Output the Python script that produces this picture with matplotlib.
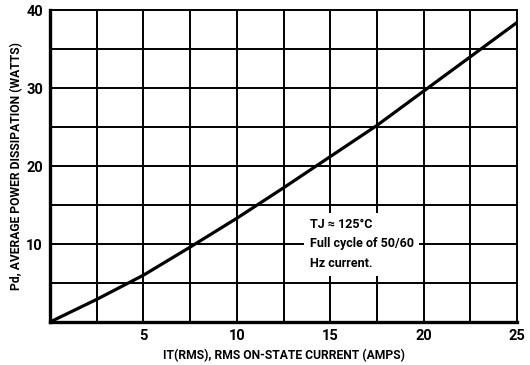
import numpy as np
import matplotlib
matplotlib.use("Agg")
import matplotlib.pyplot as plt

plt.rcParams['font.family'] = ['Roboto', 'DejaVu Sans']

# Curva: potência média x corrente RMS
corrente = [0, 2.5, 5, 7.5, 10, 12.5, 15, 17.5, 20, 22.5, 25]
potencia = [0, 2.9, 6.0, 9.6, 13.3, 17.2, 21.2, 25.2, 29.6, 34.0, 38.4]

x_ticks = [5, 10, 15, 20, 25]
y_ticks = [10, 20, 30, 40]

fig = plt.figure(figsize=(5.3, 3.65), dpi=100)
ax = fig.add_axes([50 / 530, 1 - 322 / 365, 467 / 530, 312 / 365])

# Grade a cada 2.5 A e 5 W
for gx in np.arange(2.5, 25, 2.5):
    ax.axvline(gx, color='black', lw=1.4, zorder=1)
for gy in np.arange(5, 40, 5):
    ax.axhline(gy, color='black', lw=1.4, zorder=1)

ax.plot(corrente, potencia, color='black', lw=2.3, zorder=3)

ax.set_xlim(0, 25)
ax.set_ylim(0, 40)
ax.set_xticks(x_ticks)
ax.set_yticks(y_ticks)
ax.tick_params(length=0, labelsize=10.5, pad=5)
for lbl in ax.get_xticklabels() + ax.get_yticklabels():
    lbl.set_fontweight('bold')

ax.spines['left'].set_linewidth(2.4)
ax.spines['bottom'].set_linewidth(2.4)
ax.spines['top'].set_linewidth(1.4)
ax.spines['right'].set_linewidth(1.4)

ax.set_xlabel('IT(RMS), RMS ON-STATE CURRENT (AMPS)', fontsize=8.7, fontweight='bold', labelpad=4)
ax.set_ylabel('Pd, AVERAGE POWER DISSIPATION (WATTS)', fontsize=8.7, fontweight='bold', labelpad=2)

ax.text(13.9, 10.0, 'TJ \u2248 125\u00b0C\nFull cycle of 50/60\nHz current.',
        fontsize=9, fontweight='bold', va='center', ha='left', linespacing=1.65,
        bbox=dict(facecolor='white', edgecolor='none', pad=4), zorder=4)

fig.savefig('out.png', dpi=100)
